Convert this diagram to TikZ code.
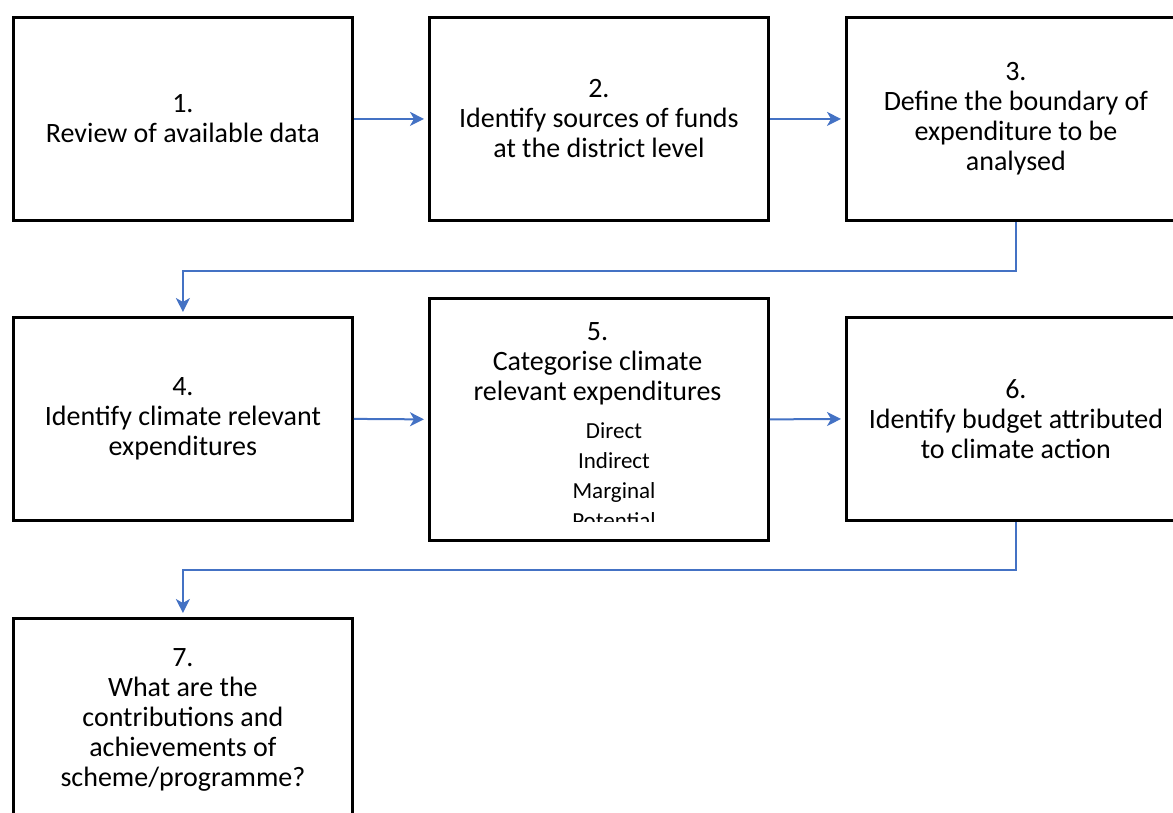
\documentclass[tikz,border=0pt]{standalone}
\usepackage{fontspec}
\setmainfont{Carlito}
\usetikzlibrary{arrows.meta}
\definecolor{arrowblue}{HTML}{4472C4}
\tikzset{
  stepbox/.style={draw=black, line width=2.8pt, fill=white, anchor=north west,
    minimum width=339pt, minimum height=203pt, align=center, inner sep=0pt,
    font=\fontsize{28}{30}\selectfont},
  flow/.style={draw=arrowblue, line width=2pt, shorten >=4pt,
    -{Stealth[length=14pt,width=14pt,inset=4pt]}}
}
\begin{document}
\begin{tikzpicture}[x=1pt,y=-1pt]
\useasboundingbox (0,0) rectangle (1173,812);
\clip (0,0) rectangle (1173,812);
\node[stepbox] (b1) at (12,16) {1.\\Review of available data};
\node[stepbox] (b2) at (428,16) {2.\\Identify sources of funds\\at the district level};
\node[stepbox] (b3) at (845,16) {3.\\Define the boundary of\\expenditure to be\\analysed};
\node[stepbox] (b4) at (12,316) {4.\\Identify climate relevant\\expenditures};
\node[stepbox, minimum height=242pt] (b5) at (428,297) {};
\node[stepbox] (b6) at (845,316) {6.\\Identify budget attributed\\to climate action};
\node[stepbox] (b7) at (12,617) {7.\\What are the\\contributions and\\achievements of\\scheme/programme?};
\node[align=center, inner sep=0pt, font=\fontsize{28}{30}\selectfont, anchor=center] (t5) at (597.5,364) {5.\\Categorise climate\\relevant expenditures};
\begin{scope}
\clip (440,410) rectangle (760,521);
\node[align=center, inner sep=0pt, font=\fontsize{23}{30}\selectfont, anchor=north] (l5) at (614,422) {Direct\\Indirect\\Marginal\\Potential};
\end{scope}
\draw[flow] (b1.east) -- (b2.west);
\draw[flow] (b2.east) -- (b3.west);
\draw[flow] (b3.south) -- ++(0,49) -| (b4.north);
\draw[flow] (b4.east) -- (b5.west);
\draw[flow] (b5.east) -- (b6.west);
\draw[flow] (b6.south) -- ++(0,48) -| (b7.north);
\end{tikzpicture}
\end{document}
